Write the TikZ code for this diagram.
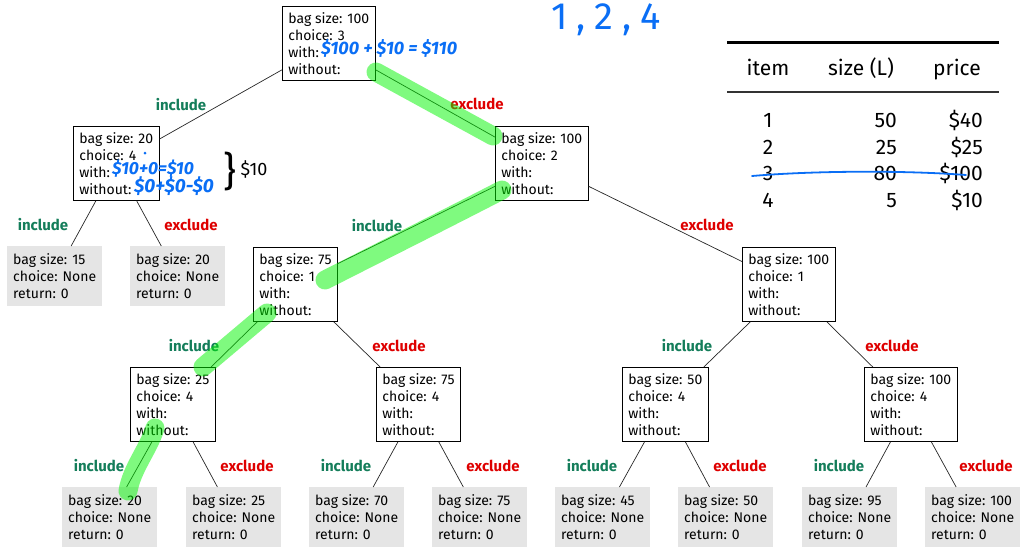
\documentclass[tikz,border=0pt]{standalone}
\usepackage{fontspec}
\setmainfont{Fira Sans}
\newfontfamily\handfont{Fira Sans}
\definecolor{incgreen}{RGB}{20,125,90}
\definecolor{excred}{RGB}{222,0,0}
\definecolor{leafgray}{RGB}{229,229,229}
\definecolor{ink}{RGB}{10,110,245}
\definecolor{marker}{RGB}{0,245,0}
\newcommand{\statefont}{\fontsize{14}{17}\selectfont}
\begin{document}
\begin{tikzpicture}[x=1pt,y=-1pt,
  state/.style={draw, line width=0.8pt, fill=white, anchor=north west, align=left,
    inner xsep=6pt, inner ysep=0pt, minimum height=74pt, font=\statefont},
  leafnode/.style={fill=leafgray, anchor=north west, align=left,
    inner xsep=6pt, inner ysep=0pt, minimum height=60pt, font=\statefont},
  edge/.style={draw=black!85, line width=0.7pt},
  inclabel/.style={text=incgreen, font=\bfseries\fontsize{15}{15}\selectfont},
  exclabel/.style={text=excred, font=\bfseries\fontsize{15}{15}\selectfont},
  hilite/.style={draw=marker, opacity=.5, line width=19pt, line cap=round, line join=round},
  hand/.style={text=ink, anchor=west, inner sep=0pt},
  tabtext/.style={font=\fontsize{21}{21}\selectfont, inner sep=0pt}
]
\useasboundingbox (0,0) rectangle (1030,547);

% ---- decision tree nodes ----
\node[state] (r) at (282,6) {bag size: 100\\choice: 3\\with:\\without:};
\node[state] (a) at (73,126) {bag size: 20\\choice: 4\\with:\\without:};
\node[state] (b) at (495,126) {bag size: 100\\choice: 2\\with:\\without:};
\node[leafnode] (aa) at (7,246) {bag size: 15\\choice: None\\return: 0};
\node[leafnode] (ab) at (130,246) {bag size: 20\\choice: None\\return: 0};
\node[state] (ba) at (253,247) {bag size: 75\\choice: 1\\with:\\without:};
\node[state] (bb) at (742,247) {bag size: 100\\choice: 1\\with:\\without:};
\node[state] (baa) at (130,367) {bag size: 25\\choice: 4\\with:\\without:};
\node[state] (bab) at (376,367) {bag size: 75\\choice: 4\\with:\\without:};
\node[state] (bba) at (622,367) {bag size: 50\\choice: 4\\with:\\without:};
\node[state] (bbb) at (864,367) {bag size: 100\\choice: 4\\with:\\without:};
\node[leafnode] (baaa) at (62,487) {bag size: 20\\choice: None\\return: 0};
\node[leafnode] (baab) at (186,487) {bag size: 25\\choice: None\\return: 0};
\node[leafnode] (baba) at (309,487) {bag size: 70\\choice: None\\return: 0};
\node[leafnode] (babb) at (432,487) {bag size: 75\\choice: None\\return: 0};
\node[leafnode] (bbaa) at (555,487) {bag size: 45\\choice: None\\return: 0};
\node[leafnode] (bbab) at (678,487) {bag size: 50\\choice: None\\return: 0};
\node[leafnode] (bbba) at (802,487) {bag size: 95\\choice: None\\return: 0};
\node[leafnode] (bbbb) at (925,487) {bag size: 100\\choice: None\\return: 0};

% ---- edges ----
\foreach \p/\c in {r/a, r/b, a/aa, a/ab, b/ba, b/bb, ba/baa, ba/bab, bb/bba, bb/bbb,
                   baa/baaa, baa/baab, bab/baba, bab/babb, bba/bbaa, bba/bbab, bbb/bbba, bbb/bbbb}
  \draw[edge] (\p) -- (\c);

% ---- edge labels ----
\node[inclabel] (l1) at (181,105) {include};
\node[exclabel] (l2) at (477,104) {exclude};
\node[inclabel] (l3) at (43,225) {include};
\node[exclabel] (l4) at (191,225) {exclude};
\node[inclabel] (l5) at (377,226) {include};
\node[exclabel] (l6) at (707,225) {exclude};
\node[inclabel] (l7) at (194,346) {include};
\node[exclabel] (l8) at (399,346) {exclude};
\node[inclabel] (l9) at (687,346) {include};
\node[exclabel] (l10) at (892,346) {exclude};
\node[inclabel] (l11) at (99,466) {include};
\node[exclabel] (l12) at (247,466) {exclude};
\node[inclabel] (l13) at (346,466) {include};
\node[exclabel] (l14) at (493,466) {exclude};
\node[inclabel] (l15) at (592,466) {include};
\node[exclabel] (l16) at (740,466) {exclude};
\node[inclabel] (l17) at (839,466) {include};
\node[exclabel] (l18) at (986,466) {exclude};

% ---- item table ----
\draw[line width=3pt] (727,42) -- (999,42);
\draw[line width=1.5pt, black!80] (727,92) -- (999,92);
\node[tabtext, anchor=base] (h1) at (768,75) {item};
\node[tabtext, anchor=base] (h2) at (861,75) {size (L)};
\node[tabtext, anchor=base] (h3) at (957,75) {price};
\foreach \i/\s/\p/\y in {1/50/40/127, 2/25/25/154, 3/80/100/180.5, 4/5/10/207} {
  \node[tabtext, anchor=base] (ti\i) at (768,\y) {\i};
  \node[tabtext, anchor=base east] (ts\i) at (897,\y) {\s};
  \node[tabtext, anchor=base east] (tp\i) at (983,\y) {\$\p};
}
\draw[ink, line width=1.8pt, line cap=round] (752,176) .. controls (810,171) and (900,170) .. (966,175);

% ---- highlighted path ----
\draw[hilite] (376,72) -- (493,136);
\draw[hilite] (502,190) .. controls (440,222) and (380,252) .. (325,280);
\draw[hilite] (267,313) -- (203,367);
\draw[hilite] (155,428) .. controls (148,450) and (132,468) .. (128,491);

% ---- handwritten notes ----
\node[hand, font=\handfont\bfseries\itshape\fontsize{18}{18}\selectfont] (n1) at (321,48.5) {\$100 + \$10 = \$110};
\node[hand, font=\handfont\bfseries\itshape\fontsize{17.5}{17.5}\selectfont] (n2) at (112,168.5) {\$10+0=\$10};
\node[hand, font=\handfont\bfseries\itshape\fontsize{19}{19}\selectfont] (n3) at (134,186) {\$0+\$0-\$0};
\fill[ink] (145,153) circle (1.5);
\node[inner sep=0pt, font=\handfont\fontsize{40}{40}\selectfont] (br) at (230,171) {\}};
\node[inner sep=0pt, font=\handfont\fontsize{18}{18}\selectfont] (n4) at (254,169) {\$10};
\node[hand, anchor=center, font=\handfont\fontsize{38}{38}\selectfont] (n5) at (606,20) {1\hspace{9pt},\hspace{9pt}2\hspace{9pt},\hspace{9pt}4};
\end{tikzpicture}
\end{document}
